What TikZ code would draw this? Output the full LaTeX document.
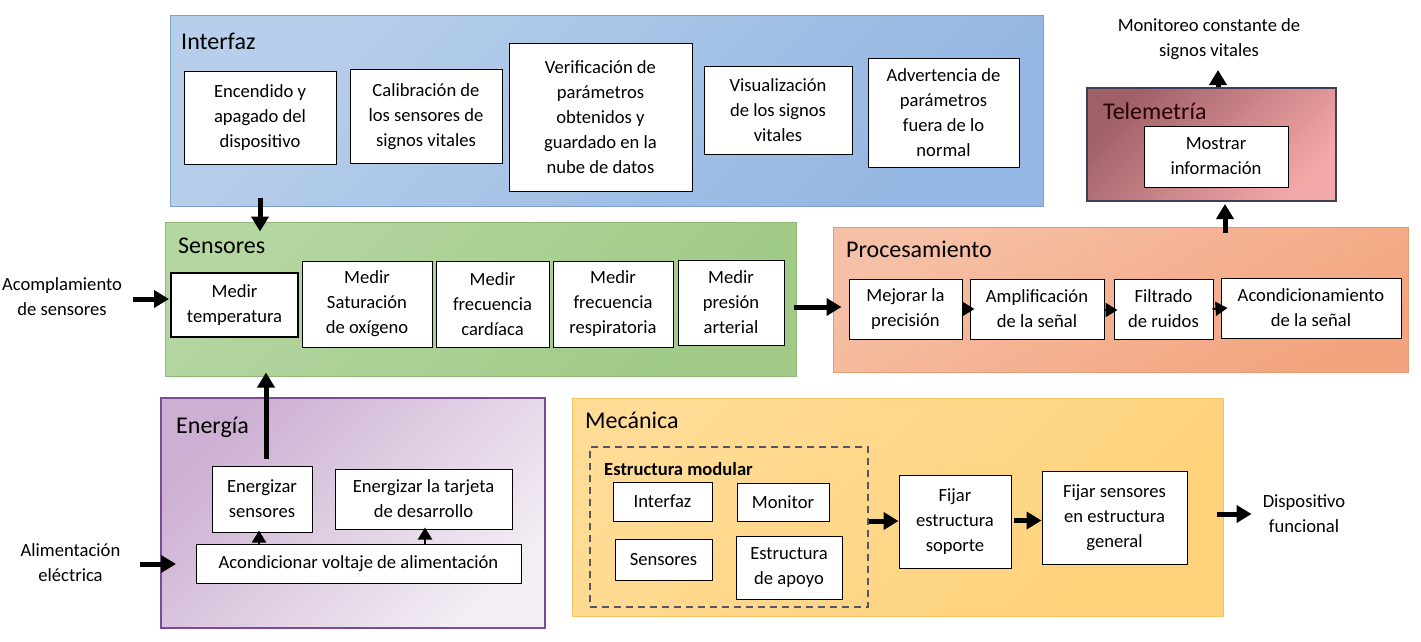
\documentclass[tikz,border=0pt]{standalone}
\usepackage{fontspec}
\setmainfont{Carlito}
\usetikzlibrary{arrows.meta,calc}
\newcommand\bodyfnt{\fontsize{18.6}{25}\selectfont}
\newcommand\titlefnt{\fontsize{24}{28}\selectfont}
\definecolor{intA}{HTML}{B8CFEB}\definecolor{intB}{HTML}{93B6E2}\definecolor{intD}{HTML}{7F9FCB}
\definecolor{senA}{HTML}{B4D6A1}\definecolor{senB}{HTML}{A0CA86}\definecolor{senD}{HTML}{8DB878}
\definecolor{proA}{HTML}{F6C0A6}\definecolor{proB}{HTML}{F3A47E}\definecolor{proD}{HTML}{E39B77}
\definecolor{telA}{HTML}{A06068}\definecolor{telB}{HTML}{F5A8A8}\definecolor{telD}{HTML}{3E3D5C}
\definecolor{eneA}{HTML}{CCAFD2}\definecolor{eneB}{HTML}{F3EDF4}\definecolor{eneD}{HTML}{7B4C95}
\definecolor{mecA}{HTML}{FFDB95}\definecolor{mecB}{HTML}{FED27A}\definecolor{mecD}{HTML}{F1C364}
\definecolor{dashD}{HTML}{555566}
\begin{document}
\begin{tikzpicture}[x=1pt,y=-1pt,
  wbox/.style={draw=black, fill=white, line width=1pt, inner sep=2pt, align=center, font=\bodyfnt},
  group/.style={line width=1pt, inner sep=0pt, shading=axis},
  gtitle/.style={anchor=base west, font=\titlefnt, inner sep=0pt},
  lbl/.style={align=center, font=\bodyfnt, inner sep=0pt},
  bigarrow/.style={line width=5pt, -{Triangle[length=15pt,width=17pt]}},
  tinyarrow/.style={line width=2pt, -{Triangle[length=12pt,width=14pt]}}
]
\useasboundingbox (0,0) rectangle (1421,642);
\fill[white] (0,0) rectangle (1421,642);

% ---- group containers
\node[group, draw=intD, top color=intA, bottom color=intB, shading angle=45,
      minimum width=873, minimum height=190] (interfaz) at (606.5,111) {};
\node[group, draw=telD, line width=2pt, top color=telA, bottom color=telB, shading angle=45,
      minimum width=249, minimum height=113] (tel) at (1211.5,144.5) {};
\node[group, draw=senD, top color=senA, bottom color=senB, shading angle=45,
      minimum width=631, minimum height=154] (sensores) at (480.5,299) {};
\node[group, draw=proD, top color=proA, bottom color=proB, shading angle=30,
      minimum width=575, minimum height=145] (proc) at (1120.5,299.5) {};
\node[group, draw=eneD, line width=2pt, top color=eneA, bottom color=eneB, shading angle=45,
      minimum width=384, minimum height=230] (energia) at (353,513) {};
\node[group, draw=mecD, top color=mecA, bottom color=mecB, shading angle=45,
      minimum width=651, minimum height=218] (mecanica) at (897.5,507) {};
\node[draw=dashD, line width=1.5pt, dash pattern=on 7pt off 5pt, inner sep=0pt,
      minimum width=278, minimum height=160] (modular) at (729,527) {};

% ---- titles
\node[gtitle] (tInt) at (181,50) {Interfaz};
\node[gtitle, text=black!85!red] (tTel) at (1103,119) {Telemetría};
\node[gtitle] (tSen) at (178,253) {Sensores};
\node[gtitle] (tPro) at (846,257) {Procesamiento};
\node[gtitle] (tEne) at (176,433) {Energía};
\node[gtitle] (tMec) at (585,428) {Mecánica};
\node[anchor=base west, inner sep=0pt, font=\bodyfnt\bfseries] (tMod) at (604,475) {Estructura modular};

% ---- Interfaz
\node[wbox, minimum width=152, minimum height=92] (enc) at (260,118) {Encendido y\\apagado del\\dispositivo};
\node[wbox, minimum width=152, minimum height=93] (cal) at (426,116.5) {Calibración de\\los sensores de\\signos vitales};
\node[wbox, minimum width=183, minimum height=147] (ver) at (600.5,117.5) {Verificación de\\parámetros\\obtenidos y\\guardado en la\\nube de datos};
\node[wbox, minimum width=148, minimum height=87] (vis) at (778,110.5) {Visualización\\de los signos\\vitales};
\node[wbox, minimum width=151, minimum height=108] (adv) at (943.5,113) {Advertencia de\\parámetros\\fuera de lo\\normal};

% ---- Telemetria
\node[wbox, minimum width=144, minimum height=61] (mos) at (1216,156.5) {Mostrar\\información};

% ---- Sensores
\node[wbox, line width=2pt, minimum width=127, minimum height=64] (tem) at (234.5,305) {Medir\\temperatura};
\node[wbox, minimum width=130, minimum height=86] (sat) at (367,304) {Medir\\Saturación\\de oxígeno};
\node[wbox, minimum width=113, minimum height=86] (car) at (492.5,304) {Medir\\frecuencia\\cardíaca};
\node[wbox, minimum width=120, minimum height=86] (res) at (613,304) {Medir\\frecuencia\\respiratoria};
\node[wbox, minimum width=106, minimum height=85] (pre) at (731,302.5) {Medir\\presión\\arterial};

% ---- Procesamiento
\node[wbox, minimum width=113, minimum height=60] (mej) at (905.5,309) {Mejorar la\\precisión};
\node[wbox, minimum width=134, minimum height=60] (amp) at (1037,309) {Amplificación\\de la señal};
\node[wbox, minimum width=99, minimum height=60] (fil) at (1163.5,309) {Filtrado\\de ruidos};
\node[wbox, minimum width=180, minimum height=60] (aco) at (1311,308) {Acondicionamiento\\de la señal};

% ---- Energia
\node[wbox, minimum width=100, minimum height=66] (es) at (262,499) {Energizar\\sensores};
\node[wbox, minimum width=177, minimum height=60] (et) at (423.5,499) {Energizar la tarjeta\\de desarrollo};
\node[wbox, minimum width=325, minimum height=39] (av) at (358.5,563.5) {Acondicionar voltaje de alimentación};

% ---- Mecanica
\node[wbox, minimum width=99, minimum height=39] (mi) at (662.5,501.5) {Interfaz};
\node[wbox, minimum width=92, minimum height=38] (mm) at (783,502) {Monitor};
\node[wbox, minimum width=97, minimum height=41] (ms) at (663.5,559.5) {Sensores};
\node[wbox, minimum width=106, minimum height=63] (ma) at (789,567.5) {Estructura\\de apoyo};
\node[wbox, minimum width=112, minimum height=93] (fe) at (955,521.5) {Fijar\\estructura\\soporte};
\node[wbox, minimum width=145, minimum height=93] (fs) at (1114.5,517.5) {Fijar sensores\\en estructura\\general};

% ---- outside labels
\node[lbl] (acomp) at (62,297) {Acomplamiento\\de sensores};
\node[lbl] (alim) at (70.5,563) {Alimentación\\eléctrica};
\node[lbl] (disp) at (1304,514) {Dispositivo\\funcional};
\node[lbl] (mon) at (1209,39) {Monitoreo constante de\\signos vitales};

% ---- connectors
\draw[bigarrow] ($(enc.south |- interfaz.south)+(0,-9)$) -- ($(enc.south |- sensores.north)+(0,10)$);
\draw[bigarrow] ($(es.north)+(4,-7)$) -- ($(es.north |- sensores.south)+(4,-4)$);
\draw[bigarrow] ($(acomp.east -| tem.west)+(-37,2)$) -- ($(acomp.east -| tem.west)+(-1,2)$);
\draw[bigarrow] ($(sensores.east)+(-3,8)$) -- ($(sensores.east -| proc.west)+(9,8)$);
\draw[bigarrow] ($(proc.north)+(104.5,6)$) -- ($(tel.south)+(13.5,2)$);
\draw[bigarrow] ($(tel.north)+(6.5,0)$) -- ($(tel.north -| mon.south)+(9,-17)$);
\draw[bigarrow] ($(alim.east -| energia.west)+(-20,1)$) -- ($(alim.east -| energia.west)+(16,1)$);
\draw[bigarrow] ($(modular.east)+(0,-6)$) -- ($(modular.east -| fe.west)+(0,-6)$);
\draw[bigarrow] ($(fe.east)+(2,-1)$) -- ($(fe.east -| fs.west)+(0,-1)$);
\draw[bigarrow] ($(fs.east)+(29,-3.5)$) -- ($(fs.east -| disp.west)+(-11,-3.5)$);

\draw[tinyarrow] ($(mej.east)+(-1,0)$) -- ($(amp.west)+(5,0)$);
\draw[tinyarrow] ($(amp.east)+(-1,1)$) -- ($(fil.west)+(4,1)$);
\draw[tinyarrow] ($(fil.east)+(-1,0)$) -- ($(aco.west)+(7,0)$);
\draw[tinyarrow] ($(av.north -| es.south)+(-3,0)$) -- ($(es.south)+(-3,-2)$);
\draw[tinyarrow] ($(av.north -| et.south)+(1.5,0)$) -- ($(et.south)+(1.5,-2)$);
\end{tikzpicture}
\end{document}
